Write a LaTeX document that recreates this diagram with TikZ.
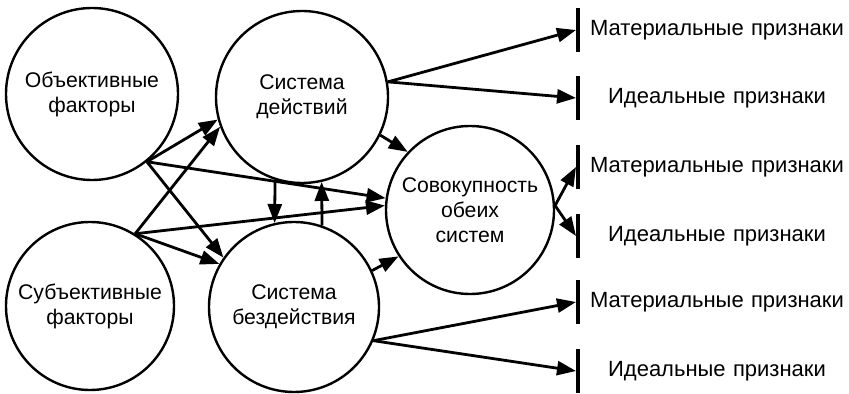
\documentclass[tikz,border=0pt]{standalone}
\usepackage{fontspec}
\setmainfont{Liberation Sans}
\usetikzlibrary{arrows.meta}
\tikzset{
  circ/.style={draw, circle, line width=1.2pt, minimum size=85pt, inner sep=0pt,
    align=center, font=\fontsize{10.6}{12.5}\selectfont},
  arr/.style={line width=1.4pt, -{Triangle[length=9.5pt,width=7pt]}},
  bar/.style={fill=black, inner sep=0pt, minimum width=1.6pt, minimum height=22pt},
  sign/.style={inner sep=0pt, text width=140pt, align=center,
    font=\fontsize{11}{12.5}\selectfont}
}
\begin{document}
\begin{tikzpicture}[x=0.5pt,y=-0.5pt]
   \useasboundingbox (0,0) rectangle (849,394);
   % systems
   \node[circ, minimum size=86pt] (obj) at (92,94) {Объективные\\факторы};
   \node[circ, minimum size=84pt] (sub) at (90,306) {Субъективные\\факторы};
   \node[circ, minimum size=86pt] (act) at (302,97) {Система\\действий};
   \node[circ] (inact) at (294,307) {Система\\бездействия};
   \node[circ, minimum size=84pt] (sum) at (470,210) {Совокупность\\обеих\\систем};
   % signs
   \foreach \y/\t [count=\i] in {30/Материальные признаки, 98/Идеальные признаки,
       167/Материальные признаки, 236/Идеальные признаки,
       302/Материальные признаки, 371/Идеальные признаки} {
     \node[bar] (b\i) at (578,\y) {};
     \node[sign] (s\i) at (717,\y) {\t};
   }
   % factors to systems
   \draw[arr] (obj.-51) -- (act.195);
   \draw[arr] (sub.58) -- (act.200);
   \draw[arr] (obj.-51) -- (inact.145);
   \draw[arr] (sub.58) -- (inact.150);
   \draw[arr] (obj.-51) -- (sum.172);
   \draw[arr] (sub.58) -- (sum.177);
   % between systems
   \draw[arr] (act.-108) -- (inact.103);
   \draw[arr] (inact.71) -- (act.-77);
   \draw[arr] (act.-26) -- (sum.137);
   \draw[arr] (inact.25) -- (sum.-147);
   % systems to signs
   \draw[arr] (act.10) -- (b1.west);
   \draw[arr] (act.10) -- (b2.west);
   \draw[arr] (sum.3) -- (b3.west);
   \draw[arr] (sum.3) -- (b4.west);
   \draw[arr] (inact.-23) -- (b5.west);
   \draw[arr] (inact.-23) -- (b6.west);
\end{tikzpicture}
\end{document}
